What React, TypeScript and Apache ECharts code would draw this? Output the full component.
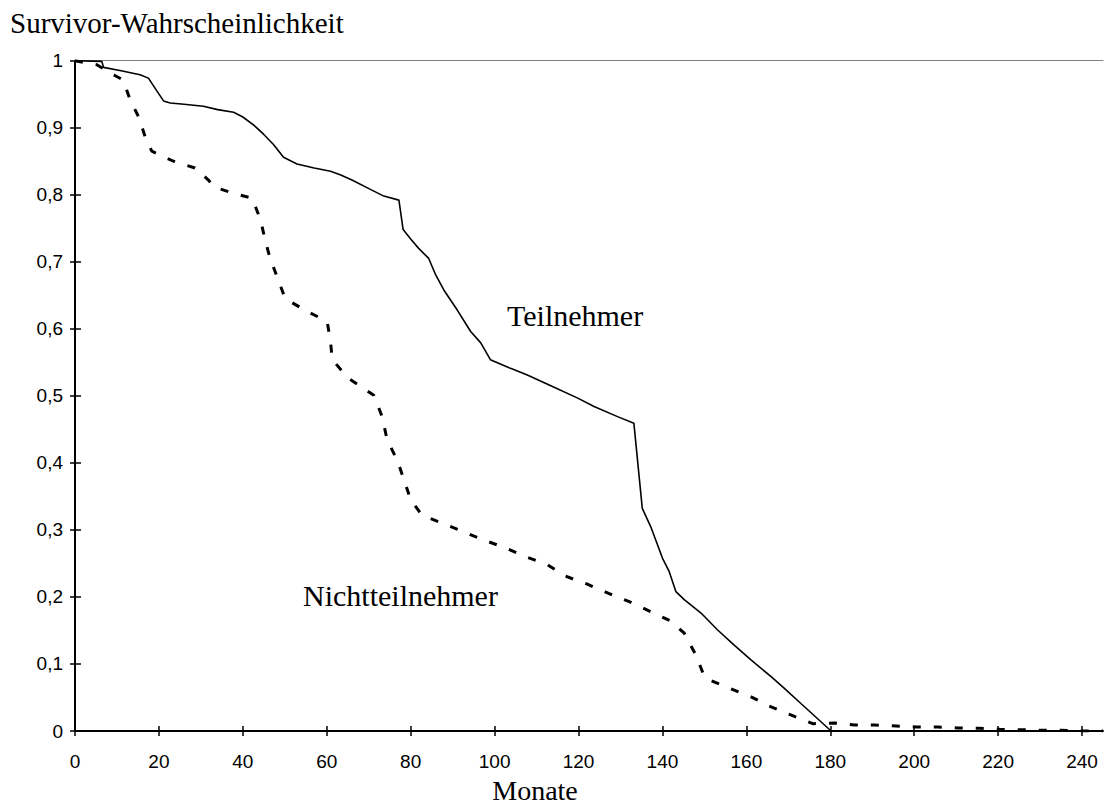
import React, { useEffect, useRef } from "react";
import * as echarts from "echarts";

const xTicks = [0, 20, 40, 60, 80, 100, 120, 140, 160, 180, 200, 220, 240];

const teilnehmerMonate = [
  0, 6.4, 6.8, 11, 15.5, 17.5, 19.5, 21.1, 22.7, 26, 30.6, 34, 37.8, 40, 42.6, 45, 47.3, 49.7, 52.9, 57,
  60.9, 63.2, 66, 70.4, 73.6, 77.2, 78.2, 80, 81.9, 84.3, 86, 87.9, 91.1, 94.3, 96.7, 99, 103.8, 107.8,
  113.4, 119.7, 123.7, 129.3, 133.2, 135.2, 137.2, 140, 141.6, 143.2, 145.2, 149.2, 153.1, 157.1, 161.1,
  165.9, 169, 173, 180.2,
];
const teilnehmerWerte = [
  1.0, 0.999, 0.99, 0.985, 0.979, 0.974, 0.955, 0.94, 0.937, 0.935, 0.932, 0.927, 0.923, 0.916, 0.904,
  0.89, 0.875, 0.856, 0.846, 0.84, 0.835, 0.83, 0.822, 0.808, 0.798, 0.792, 0.748, 0.734, 0.72, 0.705,
  0.68, 0.658, 0.628, 0.596, 0.579, 0.554, 0.541, 0.531, 0.515, 0.497, 0.484, 0.469, 0.459, 0.332, 0.305,
  0.258, 0.238, 0.208, 0.196, 0.176, 0.151, 0.128, 0.106, 0.081, 0.064, 0.041, 0.0,
];

const nichtMonate = [
  0, 5.2, 9.5, 11.5, 13.1, 15.1, 16.7, 18.3, 23.5, 28.6, 31.8, 33.0, 37.8, 42.2, 44.2, 45.3, 46.5, 48.5,
  50.1, 55.3, 60.1, 60.9, 61.3, 65.2, 71.2, 73.2, 74.4, 76.8, 78.4, 80.0, 82.7, 87.5, 92.3, 97.4, 102.6,
  107.4, 112.6, 116.9, 122.1, 127.3, 132.1, 137.2, 142.0, 145.2, 148.0, 150.0, 151.2, 155.9, 161.1, 165.9,
  170.6, 175.8, 181.0, 185.8, 190.5, 195.7, 200.5, 205.6, 210.4, 215.6, 220.4, 225, 230, 235, 240, 245,
];
const nichtWerte = [
  1.0, 0.994, 0.978, 0.971, 0.942, 0.917, 0.887, 0.865, 0.85, 0.84, 0.822, 0.812, 0.802, 0.795, 0.763,
  0.733, 0.705, 0.672, 0.645, 0.626, 0.611, 0.581, 0.554, 0.526, 0.501, 0.469, 0.434, 0.404, 0.375, 0.345,
  0.322, 0.31, 0.298, 0.285, 0.273, 0.26, 0.248, 0.231, 0.219, 0.205, 0.193, 0.178, 0.164, 0.146, 0.113,
  0.081, 0.076, 0.064, 0.051, 0.036, 0.024, 0.011, 0.012, 0.009, 0.009, 0.0075, 0.006, 0.006, 0.0045,
  0.004, 0.0025, 0.002, 0.001, 0.001, 0.0, 0.0,
];

const SANS = "'Liberation Sans', Arial, sans-serif";
const SERIF = "'Liberation Serif', 'Times New Roman', serif";

export default function App() {
  const ref = useRef<HTMLDivElement>(null);

  useEffect(() => {
    if (!ref.current) return;
    const chart = echarts.init(ref.current, undefined, { renderer: "svg" });
    const zip = (xs: number[], ys: number[]) => xs.map((x, i) => [x, ys[i]]);
    const baseX = { type: "value", min: 0, max: 245, splitLine: { show: false } };
    const baseY = { type: "value", min: 0, max: 1, interval: 0.1, splitLine: { show: false } };
    chart.setOption({
      animation: false,
      grid: { left: 75, right: 2, top: 60.7, bottom: 77 },
      xAxis: [
        {
          ...baseX,
          position: "bottom",
          axisLine: { show: true, onZero: false, lineStyle: { color: "#000", width: 2 } },
          axisTick: { show: true, customValues: xTicks, length: 5, lineStyle: { color: "#000", width: 1.5 } },
          axisLabel: { customValues: xTicks, margin: 21, fontSize: 19, fontFamily: SANS, color: "#000" },
        },
        {
          ...baseX,
          position: "bottom",
          axisLine: { show: false, onZero: false },
          axisTick: { show: true, inside: true, customValues: xTicks, length: 5, lineStyle: { color: "#000", width: 1.5 } },
          axisLabel: { show: false },
        },
        {
          ...baseX,
          position: "top",
          axisLine: { show: true, onZero: false, lineStyle: { color: "#808080", width: 1.2 } },
          axisTick: { show: false },
          axisLabel: { show: false },
        },
      ],
      yAxis: [
        {
          ...baseY,
          position: "left",
          axisLine: { show: true, onZero: false, lineStyle: { color: "#000", width: 2 } },
          axisTick: { show: true, length: 5, lineStyle: { color: "#000", width: 1.5 } },
          axisLabel: {
            margin: 12,
            fontSize: 19,
            fontFamily: SANS,
            color: "#000",
            formatter: (v: number) => String(Math.round(v * 10) / 10).replace(".", ","),
          },
        },
        {
          ...baseY,
          position: "left",
          axisLine: { show: false, onZero: false },
          axisTick: { show: true, inside: true, length: 6, lineStyle: { color: "#000", width: 1.5 } },
          axisLabel: { show: false },
        },
      ],
      series: [
        {
          name: "Teilnehmer",
          type: "line",
          xAxisIndex: 0,
          yAxisIndex: 0,
          data: zip(teilnehmerMonate, teilnehmerWerte),
          showSymbol: false,
          symbol: "none",
          lineStyle: { color: "#000", width: 1.6 },
          z: 3,
        },
        {
          name: "Nichtteilnehmer",
          type: "line",
          xAxisIndex: 0,
          yAxisIndex: 0,
          data: zip(nichtMonate, nichtWerte),
          showSymbol: false,
          symbol: "none",
          lineStyle: { color: "#000", width: 3, type: [8, 13] },
          z: 3,
        },
      ],
      graphic: [
        {
          type: "text",
          style: { text: "Survivor-Wahrscheinlichkeit", x: 10, y: 22.5, font: `29px ${SERIF}`, fill: "#000", align: "left", verticalAlign: "middle" },
        },
        {
          type: "text",
          style: { text: "Teilnehmer", x: 507, y: 315, font: `30px ${SERIF}`, fill: "#000", align: "left", verticalAlign: "middle" },
        },
        {
          type: "text",
          style: { text: "Nichtteilnehmer", x: 303, y: 595, font: `30px ${SERIF}`, fill: "#000", align: "left", verticalAlign: "middle" },
        },
        {
          type: "text",
          style: { text: "Monate", x: 535, y: 790.5, font: `28px ${SERIF}`, fill: "#000", align: "center", verticalAlign: "middle" },
        },
      ],
    });
    return () => chart.dispose();
  }, []);

  return (
    <div
      ref={ref}
      style={{ position: "fixed", left: 0, top: 0, width: 1105, height: 808, background: "#fff" }}
    />
  );
}
